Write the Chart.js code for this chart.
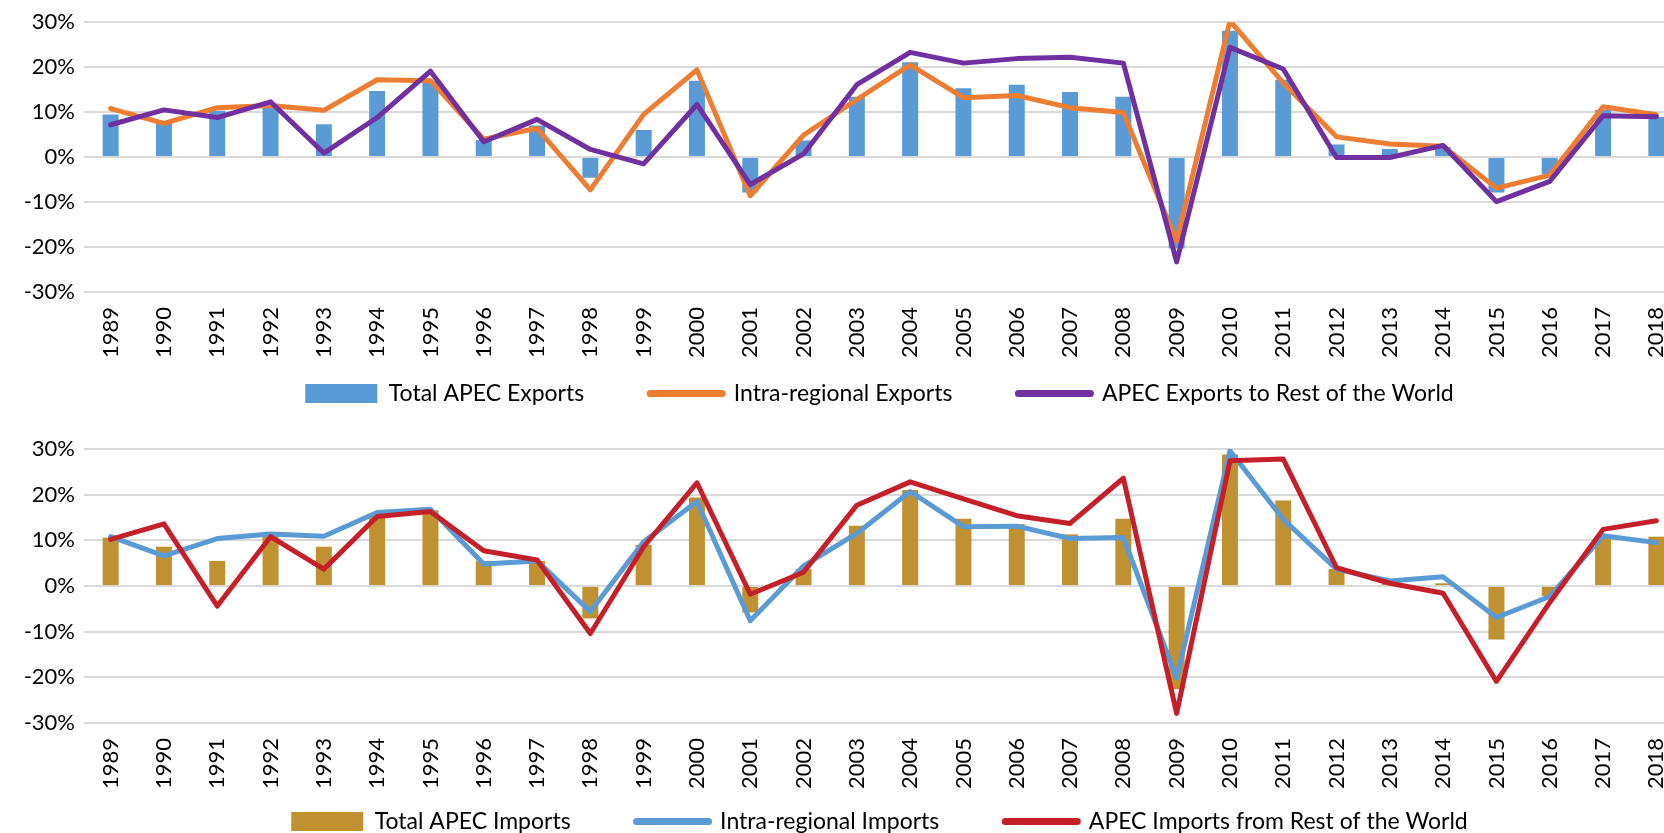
<!DOCTYPE html>
<html>
<head>
<meta charset="utf-8">
<script src="https://cdn.jsdelivr.net/npm/chart.js@4.4.1/dist/chart.umd.min.js"></script>
<style>
  html, body { margin: 0; padding: 0; background: #fff; overflow: hidden; }
  body { width: 1664px; height: 833px; position: relative; }
  .box { position: absolute; left: 0; width: 1700px; }
  #top { top: 0; height: 475px; }
  #bottom { top: 420px; height: 485px; }
</style>
</head>
<body>
<div class="box" id="top"><canvas id="exports"></canvas></div>
<div class="box" id="bottom"><canvas id="imports"></canvas></div>
<script>
// -------------------------------------------------------------
// DATA (annual growth, %)
// -------------------------------------------------------------
const years = ["1989", "1990", "1991", "1992", "1993", "1994", "1995", "1996", "1997", "1998",
  "1999", "2000", "2001", "2002", "2003", "2004", "2005", "2006", "2007", "2008",
  "2009", "2010", "2011", "2012", "2013", "2014", "2015", "2016", "2017", "2018"];

const exportsTotal = [9.5, 8.0, 10.3, 11.4, 7.3, 14.7, 16.9, 3.8, 7.0, -4.6,
  6.0, 17.0, -7.9, 3.7, 13.4, 21.1, 15.3, 16.1, 14.5, 13.4,
  -20.3, 28.1, 17.2, 2.8, 1.8, 2.2, -7.9, -3.8, 10.5, 8.9];
const exportsIntra = [10.8, 7.5, 11.0, 11.5, 10.4, 17.2, 17.0, 4.0, 6.4, -7.3,
  9.5, 19.4, -8.6, 4.9, 12.8, 20.5, 13.2, 13.7, 11.0, 9.9,
  -18.7, 30.3, 16.5, 4.5, 2.9, 2.4, -6.9, -4.0, 11.2, 9.4];
const exportsRow = [7.2, 10.5, 8.8, 12.3, 0.9, 8.8, 19.1, 3.4, 8.4, 1.7,
  -1.5, 11.7, -6.1, 0.7, 16.1, 23.3, 20.9, 21.9, 22.2, 20.9,
  -23.3, 24.4, 19.6, -0.1, -0.1, 2.6, -9.9, -5.4, 9.2, 9.0];

const importsTotal = [10.6, 8.6, 5.5, 11.2, 8.6, 15.2, 16.6, 5.5, 5.5, -7.1,
  9.0, 19.4, -5.8, 3.7, 13.2, 21.0, 14.7, 13.6, 11.3, 14.7,
  -22.6, 28.8, 18.7, 3.7, 0.5, 0.6, -11.7, -2.2, 10.9, 10.8];
const importsIntra = [10.8, 6.6, 10.4, 11.4, 10.9, 16.1, 16.8, 4.8, 5.5, -5.6,
  9.7, 18.5, -7.6, 4.4, 11.5, 20.7, 13.0, 13.1, 10.4, 10.6,
  -20.2, 29.6, 14.6, 3.7, 1.1, 2.0, -6.9, -2.3, 11.0, 9.5];
const importsRow = [10.2, 13.6, -4.4, 10.8, 3.7, 15.2, 16.3, 7.7, 5.7, -10.4,
  8.6, 22.6, -1.8, 3.0, 17.7, 22.8, 19.1, 15.4, 13.7, 23.6,
  -27.9, 27.4, 27.8, 4.0, 0.6, -1.6, -20.9, -3.6, 12.4, 14.3];

const yTicks = { min: -30, max: 30, step: 10 };

// -------------------------------------------------------------
// DEFAULTS
// -------------------------------------------------------------
Chart.defaults.font.family = "Lato, 'Open Sans', sans-serif";
Chart.defaults.font.size = 22;
Chart.defaults.color = "#000";

// legend in the original sits centred on the full plot and close under the years
const legendNudge = {
  id: "legendNudge",
  afterLayout(chart) {
    const lg = chart.legend;
    const h = lg.bottom - lg.top;
    lg.left = 76;
    lg.top = chart.options.legendTop;
    lg.bottom = lg.top + h;
  }
};

// -------------------------------------------------------------
// CHART
// -------------------------------------------------------------
function buildChart(id, names, colors, series, pad, legendTop) {
  const [barName, lineName1, lineName2] = names;
  const [barColor, lineColor1, lineColor2] = colors;
  const [barData, lineData1, lineData2] = series;

  const line = (label, data, color, order) => ({
    type: "line",
    label,
    data,
    order,
    borderColor: color,
    backgroundColor: color,
    borderWidth: 5,
    borderCapStyle: "round",
    borderJoinStyle: "round",
    pointRadius: 0,
    pointHoverRadius: 0,
    tension: 0
  });

  const baseLabels = Chart.defaults.plugins.legend.labels.generateLabels;

  return new Chart(document.getElementById(id), {
    type: "bar",
    data: {
      labels: years,
      datasets: [
        {
          label: barName,
          data: barData,
          order: 3,
          backgroundColor: barColor,
          borderWidth: 0,
          barPercentage: 0.3,
          categoryPercentage: 1
        },
        line(lineName1, lineData1, lineColor1, 2),
        line(lineName2, lineData2, lineColor2, 1)
      ]
    },
    plugins: [legendNudge],
    options: {
      legendTop,
      responsive: true,
      maintainAspectRatio: false,
      animation: false,
      devicePixelRatio: 1,
      layout: { padding: { top: pad.top, bottom: pad.bottom, left: 0, right: 17 } },
      plugins: {
        tooltip: { enabled: false },
        legend: {
          position: "bottom",
          labels: {
            usePointStyle: true,
            pointStyleWidth: 72,
            boxWidth: 72,
            boxHeight: 19,
            padding: 66,
            color: "#000",
            font: { size: 23 },
            sort: (a, b) => a.datasetIndex - b.datasetIndex,
            generateLabels: chart => baseLabels(chart).map(l => ({
              ...l,
              pointStyle: l.datasetIndex === 0 ? "rect" : "line",
              lineWidth: l.datasetIndex === 0 ? 0 : 7,
              lineCap: "round"
            }))
          }
        }
      },
      scales: {
        x: {
          grid: { display: false },
          border: { display: false },
          ticks: { autoSkip: false, minRotation: 90, maxRotation: 90, padding: 7, font: { size: 22 } },
          afterFit: s => { s.height = 80; }
        },
        y: {
          min: yTicks.min,
          max: yTicks.max,
          grid: { color: "#d9d9d9", lineWidth: 2, drawTicks: false },
          border: { display: false },
          ticks: { stepSize: yTicks.step, padding: 9, font: { size: 22 }, callback: v => v + "%" },
          afterFit: s => { s.width = 84; }
        }
      }
    }
  });
}

buildChart(
  "exports",
  ["Total APEC Exports", "Intra-regional Exports", "APEC Exports to Rest of the World"],
  ["#5B9BD5", "#ED7D31", "#7030A0"],
  [exportsTotal, exportsIntra, exportsRow],
  { top: 19, bottom: 4 },
  316
);

buildChart(
  "imports",
  ["Total APEC Imports", "Intra-regional Imports", "APEC Imports from Rest of the World"],
  ["#BF9131", "#5B9BD5", "#C5202A"],
  [importsTotal, importsIntra, importsRow],
  { top: 29, bottom: 3 },
  324
);
</script>
</body>
</html>
